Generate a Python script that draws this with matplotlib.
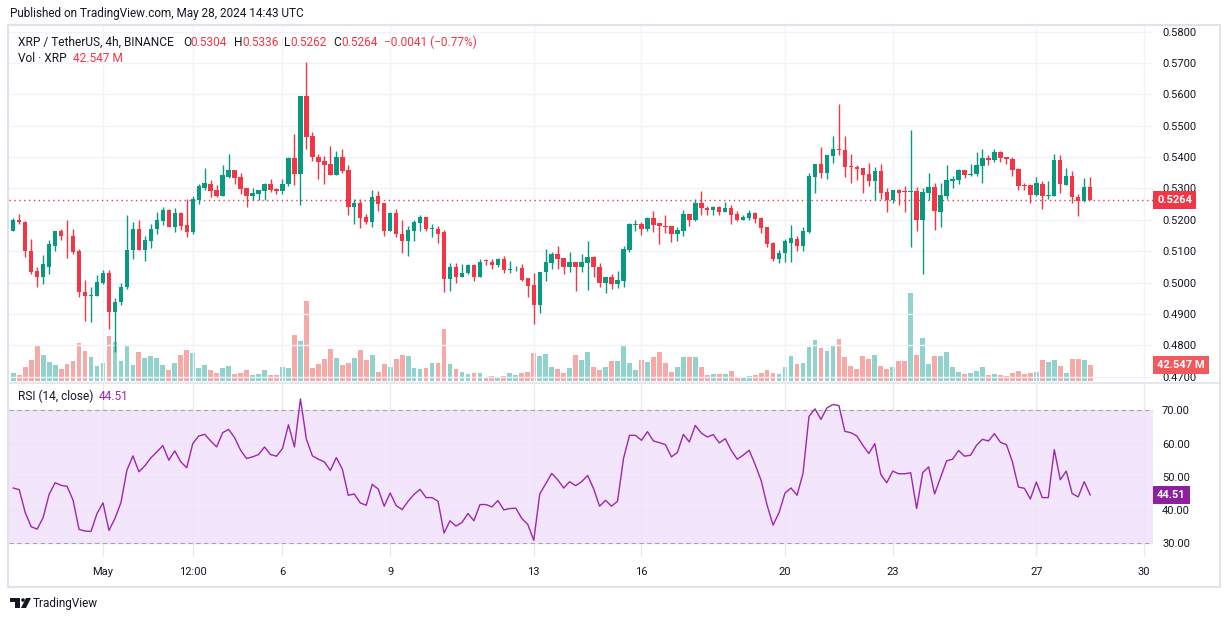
import numpy as np
import pandas as pd
import matplotlib.pyplot as plt
import matplotlib.transforms as mtransforms
from matplotlib.patches import Rectangle, Polygon, Ellipse
from matplotlib.lines import Line2D

plt.rcParams['font.family'] = ['Roboto', 'DejaVu Sans']

# XRP / TetherUS 4h candles, first one opens 2024-04-28 12:00 UTC
opens = [0.5166, 0.5200, 0.5194, 0.5102, 0.5036, 0.5019, 0.5051, 0.5118, 0.5164, 0.5150,
         0.5147, 0.5100, 0.4969, 0.4957, 0.4956, 0.5000, 0.5032, 0.4905, 0.4937, 0.4985,
         0.5103, 0.5172, 0.5103, 0.5132, 0.5171, 0.5196, 0.5230, 0.5177, 0.5222, 0.5182,
         0.5160, 0.5262, 0.5300, 0.5315, 0.5294, 0.5276, 0.5337, 0.5358, 0.5337, 0.5300,
         0.5276, 0.5281, 0.5292, 0.5315, 0.5297, 0.5292, 0.5313, 0.5397, 0.5345, 0.5594,
         0.5467, 0.5401, 0.5387, 0.5377, 0.5342, 0.5401, 0.5358, 0.5241, 0.5254, 0.5209,
         0.5193, 0.5275, 0.5254, 0.5166, 0.5222, 0.5156, 0.5134, 0.5166, 0.5190, 0.5209,
         0.5170, 0.5172, 0.5160, 0.5011, 0.5051, 0.5017, 0.5030, 0.5055, 0.5019, 0.5070,
         0.5064, 0.5055, 0.5075, 0.5041, 0.5042, 0.5046, 0.5014, 0.4991, 0.4930, 0.5033,
         0.5062, 0.5092, 0.5077, 0.5049, 0.5067, 0.5051, 0.5062, 0.5080, 0.5051, 0.4998,
         0.5017, 0.4996, 0.5004, 0.5103, 0.5185, 0.5187, 0.5172, 0.5205, 0.5190, 0.5181,
         0.5179, 0.5156, 0.5164, 0.5218, 0.5198, 0.5253, 0.5237, 0.5232, 0.5241, 0.5224,
         0.5237, 0.5218, 0.5198, 0.5207, 0.5222, 0.5206, 0.5176, 0.5126, 0.5074, 0.5094,
         0.5126, 0.5138, 0.5118, 0.5161, 0.5337, 0.5377, 0.5350, 0.5403, 0.5426, 0.5422,
         0.5371, 0.5369, 0.5364, 0.5345, 0.5323, 0.5355, 0.5288, 0.5262, 0.5294, 0.5291,
         0.5289, 0.5291, 0.5201, 0.5286, 0.5304, 0.5225, 0.5276, 0.5324, 0.5328, 0.5358,
         0.5344, 0.5345, 0.5372, 0.5397, 0.5390, 0.5416, 0.5400, 0.5393, 0.5361, 0.5310,
         0.5310, 0.5278, 0.5313, 0.5277, 0.5276, 0.5390, 0.5310, 0.5340, 0.5272, 0.5261,
         0.5304]
highs = [0.5207, 0.5218, 0.5197, 0.5140, 0.5049, 0.5088, 0.5137, 0.5166, 0.5172, 0.5198,
         0.5172, 0.5107, 0.5009, 0.4987, 0.5023, 0.5041, 0.5039, 0.4951, 0.4998, 0.5214,
         0.5193, 0.5198, 0.5147, 0.5188, 0.5224, 0.5241, 0.5236, 0.5239, 0.5225, 0.5265,
         0.5275, 0.5315, 0.5364, 0.5328, 0.5310, 0.5374, 0.5409, 0.5360, 0.5350, 0.5302,
         0.5300, 0.5296, 0.5319, 0.5330, 0.5302, 0.5331, 0.5401, 0.5475, 0.5594, 0.5704,
         0.5479, 0.5411, 0.5403, 0.5435, 0.5419, 0.5426, 0.5374, 0.5266, 0.5268, 0.5220,
         0.5296, 0.5292, 0.5254, 0.5224, 0.5236, 0.5198, 0.5179, 0.5198, 0.5217, 0.5209,
         0.5186, 0.5179, 0.5168, 0.5062, 0.5062, 0.5058, 0.5060, 0.5058, 0.5075, 0.5074,
         0.5075, 0.5079, 0.5086, 0.5068, 0.5054, 0.5060, 0.5014, 0.5030, 0.5035, 0.5108,
         0.5099, 0.5118, 0.5077, 0.5096, 0.5067, 0.5092, 0.5131, 0.5085, 0.5062, 0.5019,
         0.5026, 0.5036, 0.5118, 0.5190, 0.5198, 0.5193, 0.5209, 0.5227, 0.5190, 0.5214,
         0.5181, 0.5177, 0.5230, 0.5218, 0.5268, 0.5291, 0.5245, 0.5243, 0.5243, 0.5256,
         0.5247, 0.5228, 0.5215, 0.5232, 0.5226, 0.5210, 0.5176, 0.5129, 0.5105, 0.5139,
         0.5182, 0.5147, 0.5176, 0.5349, 0.5379, 0.5433, 0.5408, 0.5467, 0.5569, 0.5467,
         0.5411, 0.5374, 0.5364, 0.5381, 0.5369, 0.5377, 0.5300, 0.5296, 0.5298, 0.5308,
         0.5486, 0.5305, 0.5300, 0.5350, 0.5318, 0.5318, 0.5374, 0.5340, 0.5363, 0.5358,
         0.5377, 0.5417, 0.5425, 0.5406, 0.5426, 0.5419, 0.5400, 0.5400, 0.5365, 0.5319,
         0.5310, 0.5336, 0.5323, 0.5323, 0.5409, 0.5406, 0.5366, 0.5356, 0.5282, 0.5334,
         0.5336]
lows = [0.5163, 0.5186, 0.5083, 0.5028, 0.4985, 0.4996, 0.5026, 0.5102, 0.5135, 0.5077,
        0.5092, 0.4953, 0.4877, 0.4874, 0.4956, 0.4996, 0.4852, 0.4780, 0.4927, 0.4980,
        0.5075, 0.5103, 0.5068, 0.5110, 0.5156, 0.5182, 0.5177, 0.5160, 0.5169, 0.5145,
        0.5156, 0.5252, 0.5294, 0.5273, 0.5273, 0.5276, 0.5335, 0.5313, 0.5283, 0.5241,
        0.5262, 0.5262, 0.5262, 0.5289, 0.5283, 0.5282, 0.5308, 0.5310, 0.5246, 0.5427,
        0.5388, 0.5329, 0.5313, 0.5342, 0.5342, 0.5350, 0.5214, 0.5188, 0.5174, 0.5188,
        0.5177, 0.5227, 0.5150, 0.5166, 0.5145, 0.5094, 0.5086, 0.5134, 0.5164, 0.5164,
        0.5145, 0.5126, 0.4969, 0.4973, 0.4998, 0.5017, 0.5026, 0.5004, 0.5017, 0.5055,
        0.5043, 0.5049, 0.5030, 0.5030, 0.5036, 0.5004, 0.4955, 0.4868, 0.4902, 0.5004,
        0.5044, 0.5043, 0.5026, 0.5033, 0.4973, 0.5033, 0.4975, 0.5019, 0.4987, 0.4966,
        0.4979, 0.4982, 0.4985, 0.5099, 0.5164, 0.5151, 0.5163, 0.5160, 0.5122, 0.5159,
        0.5128, 0.5134, 0.5147, 0.5180, 0.5196, 0.5214, 0.5214, 0.5214, 0.5216, 0.5224,
        0.5186, 0.5197, 0.5198, 0.5200, 0.5191, 0.5158, 0.5113, 0.5070, 0.5062, 0.5065,
        0.5065, 0.5100, 0.5102, 0.5158, 0.5286, 0.5335, 0.5330, 0.5381, 0.5406, 0.5337,
        0.5318, 0.5326, 0.5286, 0.5308, 0.5262, 0.5268, 0.5225, 0.5254, 0.5248, 0.5225,
        0.5113, 0.5164, 0.5028, 0.5262, 0.5168, 0.5177, 0.5268, 0.5300, 0.5315, 0.5334,
        0.5339, 0.5340, 0.5318, 0.5374, 0.5385, 0.5385, 0.5377, 0.5340, 0.5294, 0.5294,
        0.5254, 0.5275, 0.5234, 0.5266, 0.5276, 0.5286, 0.5310, 0.5254, 0.5212, 0.5258,
        0.5262]
closes = [0.5198, 0.5194, 0.5100, 0.5033, 0.5019, 0.5058, 0.5122, 0.5164, 0.5148, 0.5147,
          0.5097, 0.4969, 0.4957, 0.4958, 0.5003, 0.5032, 0.4905, 0.4939, 0.4987, 0.5105,
          0.5172, 0.5103, 0.5135, 0.5172, 0.5198, 0.5230, 0.5177, 0.5222, 0.5181, 0.5160,
          0.5265, 0.5308, 0.5317, 0.5292, 0.5276, 0.5342, 0.5358, 0.5334, 0.5298, 0.5276,
          0.5286, 0.5294, 0.5315, 0.5294, 0.5291, 0.5315, 0.5397, 0.5345, 0.5594, 0.5465,
          0.5399, 0.5385, 0.5374, 0.5342, 0.5401, 0.5356, 0.5241, 0.5254, 0.5206, 0.5193,
          0.5272, 0.5252, 0.5166, 0.5222, 0.5155, 0.5134, 0.5168, 0.5193, 0.5209, 0.5170,
          0.5172, 0.5156, 0.5011, 0.5051, 0.5017, 0.5032, 0.5055, 0.5017, 0.5067, 0.5068,
          0.5055, 0.5075, 0.5039, 0.5043, 0.5044, 0.5007, 0.4988, 0.4930, 0.5035, 0.5065,
          0.5092, 0.5075, 0.5049, 0.5067, 0.5051, 0.5067, 0.5080, 0.5049, 0.4998, 0.5017,
          0.4996, 0.5007, 0.5106, 0.5187, 0.5187, 0.5172, 0.5205, 0.5183, 0.5180, 0.5177,
          0.5156, 0.5168, 0.5218, 0.5198, 0.5254, 0.5238, 0.5230, 0.5241, 0.5224, 0.5237,
          0.5216, 0.5198, 0.5208, 0.5222, 0.5202, 0.5175, 0.5124, 0.5074, 0.5095, 0.5131,
          0.5141, 0.5118, 0.5166, 0.5339, 0.5377, 0.5350, 0.5406, 0.5425, 0.5423, 0.5369,
          0.5369, 0.5361, 0.5342, 0.5323, 0.5355, 0.5286, 0.5262, 0.5294, 0.5286, 0.5289,
          0.5291, 0.5201, 0.5288, 0.5304, 0.5228, 0.5278, 0.5326, 0.5330, 0.5358, 0.5342,
          0.5347, 0.5374, 0.5397, 0.5392, 0.5416, 0.5397, 0.5394, 0.5358, 0.5308, 0.5308,
          0.5278, 0.5317, 0.5275, 0.5279, 0.5390, 0.5313, 0.5340, 0.5273, 0.5261, 0.5305,
          0.5264]
# volume in millions of XRP
volumes = [22.2, 16.0, 38.1, 55.8, 95.7, 69.1, 50.5, 42.5, 31.9, 46.1,
           53.2, 101.0, 79.8, 64.7, 39.9, 47.0, 119.7, 103.7, 53.2, 95.7,
           42.5, 77.1, 61.2, 66.5, 61.2, 42.5, 29.3, 47.9, 69.1, 81.5,
           74.5, 34.6, 42.5, 29.3, 22.2, 34.6, 39.9, 18.6, 21.3, 29.3,
           16.0, 18.6, 29.3, 16.0, 16.0, 37.2, 34.6, 122.3, 106.4, 212.7,
           34.6, 45.2, 58.5, 85.1, 61.2, 42.5, 47.9, 61.2, 82.4, 55.8,
           69.1, 23.9, 45.2, 37.2, 58.5, 69.1, 66.5, 34.6, 31.9, 34.6,
           47.9, 47.9, 138.3, 45.2, 31.9, 23.9, 18.6, 21.3, 21.3, 10.6,
           13.3, 10.6, 13.3, 21.3, 16.0, 21.3, 23.9, 74.5, 66.5, 71.8,
           37.2, 31.9, 21.3, 34.6, 69.1, 55.8, 77.1, 37.2, 29.3, 37.2,
           53.2, 53.2, 95.7, 47.9, 29.3, 55.8, 50.5, 63.8, 77.1, 47.9,
           23.9, 37.2, 63.8, 63.8, 63.8, 37.2, 16.0, 18.6, 18.6, 18.6,
           26.6, 10.6, 10.6, 13.3, 16.0, 21.3, 29.3, 21.3, 18.6, 37.2,
           66.5, 45.2, 47.9, 90.4, 109.0, 87.8, 79.8, 93.1, 111.7, 63.8,
           39.9, 31.9, 66.5, 58.5, 69.1, 39.9, 31.9, 37.2, 53.2, 53.2,
           234.0, 69.1, 114.3, 45.2, 66.5, 66.5, 77.1, 37.2, 23.9, 18.6,
           21.3, 26.6, 37.2, 16.0, 18.6, 16.0, 13.3, 21.3, 26.6, 18.6,
           21.3, 23.9, 55.8, 50.5, 55.8, 39.9, 21.3, 58.5, 58.5, 55.8,
           42.547]
rsi_values = [46.6, 46.1, 39.2, 34.9, 34.2, 37.7, 44.7, 48.2, 47.4, 47.1,
              42.9, 34.1, 33.6, 33.5, 38.9, 42.1, 33.8, 37.4, 42.2, 52.0,
              56.3, 51.5, 53.3, 55.7, 57.5, 59.4, 55.0, 57.8, 54.5, 52.7,
              60.0, 62.3, 62.8, 60.8, 59.0, 63.3, 64.3, 61.8, 58.0, 55.5,
              56.0, 56.7, 59.0, 56.7, 56.2, 58.5, 65.7, 59.0, 73.5, 61.3,
              56.3, 55.3, 54.5, 51.9, 55.8, 52.3, 44.4, 44.8, 42.1, 41.4,
              47.7, 46.3, 41.1, 45.1, 41.3, 40.1, 42.6, 44.7, 46.2, 43.7,
              43.7, 42.6, 33.0, 36.7, 35.1, 36.2, 38.9, 36.7, 41.6, 41.6,
              40.9, 42.8, 40.0, 40.4, 40.5, 37.4, 35.6, 30.8, 44.8, 47.9,
              51.0, 49.1, 46.6, 48.5, 47.3, 48.5, 50.4, 46.4, 41.1, 42.9,
              41.1, 42.6, 55.5, 62.5, 62.5, 61.0, 63.6, 60.8, 60.3, 59.7,
              56.0, 57.3, 62.8, 60.5, 65.5, 63.2, 62.0, 62.7, 60.2, 61.5,
              58.0, 55.3, 56.5, 58.0, 53.7, 48.9, 41.4, 35.4, 39.2, 45.1,
              46.6, 44.4, 51.0, 68.2, 70.5, 67.3, 70.8, 71.8, 71.5, 63.7,
              63.3, 62.3, 59.5, 57.0, 60.0, 50.7, 48.2, 51.7, 50.9, 50.9,
              51.2, 40.4, 51.2, 53.0, 44.8, 49.8, 54.8, 55.3, 57.9, 56.2,
              56.5, 59.5, 61.3, 60.8, 63.0, 60.4, 59.7, 54.5, 46.9, 46.5,
              43.3, 48.4, 43.7, 43.7, 58.2, 49.1, 51.7, 44.9, 43.9, 48.5,
              44.51]

tick_times = ['2024-05-01 00:00', '2024-05-03 12:00', '2024-05-06 00:00', '2024-05-09 00:00',
              '2024-05-13 00:00', '2024-05-16 00:00', '2024-05-20 00:00', '2024-05-23 00:00',
              '2024-05-27 00:00', '2024-05-30 00:00']
tick_labels = ['May', '12:00', '6', '9', '13', '16', '20', '23', '27', '30']
price_ticks = [0.47, 0.48, 0.49, 0.50, 0.51, 0.52, 0.53, 0.54, 0.55, 0.56, 0.57, 0.58]
rsi_ticks = [30, 40, 50, 60, 70]

DARK = '#131722'
GRID = '#f0f3fa'
LINE = '#e0e3eb'
GREEN = '#089981'
RED = '#f23645'
PURPLE = '#9c27b0'

W, H = 1228, 621


def fx(px):
    return px / W


def fy(py):
    return 1 - py / H


o = np.array(opens)
hi = np.array(highs)
lo = np.array(lows)
c = np.array(closes)
v = np.array(volumes)
rsi = np.array(rsi_values)
x = np.arange(len(c))
up = c >= o

start = pd.Timestamp('2024-04-28 12:00')
tick_pos = [(pd.Timestamp(t) - start) / pd.Timedelta('4h') for t in tick_times]

fig = plt.figure(figsize=(W / 100, H / 100), dpi=100)
fig.patch.set_facecolor('white')

ax = fig.add_axes([fx(9), fy(381), fx(1144), 355 / H])
axv = ax.twinx()
axr = fig.add_axes([fx(9), fy(557), fx(1144), 173 / H])
ax.set_zorder(axv.get_zorder() + 1)
ax.patch.set_visible(False)

for a in (ax, axv, axr):
    for s in a.spines.values():
        s.set_visible(False)

# volume
axv.bar(x, v, width=0.8, color=np.where(up, '#92d2cc', '#f7a9a7'), linewidth=0)
axv.set_ylim(0, 940)
axv.set_yticks([])

# candles
col = np.where(up, GREEN, RED)
ax.vlines(x, lo, hi, colors=col, linewidth=1, zorder=3)
ax.bar(x, np.maximum(np.abs(c - o), 0.00025), bottom=np.minimum(o, c), width=0.74,
       color=col, linewidth=0, zorder=4)
ax.axhline(c[-1], color=RED, lw=1, ls=(0, (1, 2.5)), zorder=2)

xlim = (-0.71, 190.5)
ax.set_xlim(*xlim)
ax.set_ylim(0.46861, 0.58182)
ax.set_xticks(tick_pos)
ax.set_yticks(price_ticks, [f'{p:.4f}' for p in price_ticks])
ax.yaxis.tick_right()
ax.set_axisbelow(True)
ax.grid(True, color=GRID, lw=1)
ax.tick_params(axis='x', length=0, labelbottom=False)
ax.tick_params(axis='y', length=0, pad=6.5, labelsize=8, labelcolor=DARK)

# RSI
axr.axhspan(30, 70, color='#f3e5fc', lw=0, zorder=0.3)
axr.axhline(70, color='#a3a6af', lw=0.8, ls=(0, (4, 3)), zorder=1)
axr.axhline(30, color='#a3a6af', lw=0.8, ls=(0, (4, 3)), zorder=1)
axr.plot(x, rsi, color=PURPLE, lw=1.0, zorder=3)
axr.set_xlim(*xlim)
axr.set_ylim(25.77, 78.0)
axr.set_xticks(tick_pos, tick_labels)
axr.set_yticks(rsi_ticks, [f'{r:.2f}' for r in rsi_ticks])
axr.yaxis.tick_right()
axr.set_axisbelow(True)
axr.grid(True, color='#ebe6f2', lw=1)
axr.tick_params(axis='x', length=0, pad=7, labelsize=8, labelcolor=DARK)
axr.tick_params(axis='y', length=0, pad=6.5, labelsize=8, labelcolor=DARK)

# last value tags on the scales
box = dict(boxstyle='square,pad=0.35', ec='none')
tp = mtransforms.blended_transform_factory(ax.transAxes, ax.transData)
tv = mtransforms.blended_transform_factory(ax.transAxes, axv.transData)
tr = mtransforms.blended_transform_factory(axr.transAxes, axr.transData)
ax.text(1.0035, c[-1], f'{c[-1]:.4f}', transform=tp, ha='left', va='center',
        color='white', fontsize=8, fontweight='bold', bbox={**box, 'fc': RED}, zorder=10)
ax.text(1.0035, v[-1], f'{v[-1]:.3f} M', transform=tv, ha='left', va='center',
        color='white', fontsize=8, fontweight='bold', bbox={**box, 'fc': '#f05a5f'}, zorder=10)
axr.text(1.0035, rsi[-1], f'{rsi[-1]:.2f}', transform=tr, ha='left', va='center',
         color='white', fontsize=8, fontweight='bold', bbox={**box, 'fc': '#8e1f9e'}, zorder=10)

# header / legends
fig.text(fx(10), fy(14), 'Published on TradingView.com, May 28, 2024 14:43 UTC',
         ha='left', va='center', fontsize=8.5, color=DARK)
chg = c[-1] - c[-2]
pct = chg / c[-2] * 100
fs = 8.6
legend_parts = [('XRP / TetherUS, 4h, BINANCE', 18, DARK),
                ('O', 183, DARK), (f'{o[-1]:.4f}', 190, RED),
                ('H', 234, DARK), (f'{hi[-1]:.4f}', 242, RED),
                ('L', 284, DARK), (f'{lo[-1]:.4f}', 290, RED),
                ('C', 333, DARK), (f'{c[-1]:.4f}', 341, RED),
                (f'\u2212{abs(chg):.4f} (\u2212{abs(pct):.2f}%)', 384, RED)]
for txt, px, colr in legend_parts:
    fig.text(fx(px), fy(42), txt, ha='left', va='center', fontsize=fs, color=colr)
fig.text(fx(18), fy(58), 'Vol \u00b7 XRP', ha='left', va='center', fontsize=fs, color=DARK)
fig.text(fx(73), fy(58), f'{v[-1]:.3f} M', ha='left', va='center', fontsize=fs, color=RED)
fig.text(fx(18), fy(396), 'RSI (14, close)', ha='left', va='center', fontsize=fs, color=DARK)
fig.text(fx(99), fy(396), f'{rsi[-1]:.2f}', ha='left', va='center', fontsize=fs, color=PURPLE)

# frame and pane separators
fig.add_artist(Rectangle((fx(8), fy(587)), fx(1212), 562 / H, transform=fig.transFigure,
                         fill=False, ec=LINE, lw=1.5))
fig.add_artist(Line2D([fx(8), fx(1220)], [fy(382.5)] * 2, color=LINE, lw=1.2,
                      transform=fig.transFigure))

# TradingView logo
logo = '#131722'
fig.add_artist(Polygon([(fx(10), fy(598)), (fx(20), fy(598)), (fx(20), fy(608)),
                        (fx(15), fy(608)), (fx(15), fy(602)), (fx(10), fy(602))],
                       closed=True, fc=logo, ec='none', transform=fig.transFigure))
fig.add_artist(Ellipse((fx(23), fy(600)), 3.6 / W, 3.6 / H, fc=logo, ec='none',
                       transform=fig.transFigure))
fig.add_artist(Polygon([(fx(26), fy(598)), (fx(31), fy(598)), (fx(26), fy(608)),
                        (fx(21), fy(608))], closed=True, fc=logo, ec='none',
                       transform=fig.transFigure))
fig.text(fx(33), fy(603), 'TradingView', ha='left', va='center', fontsize=8.5, color=DARK)

fig.savefig('out.png', dpi=100, facecolor='white')
